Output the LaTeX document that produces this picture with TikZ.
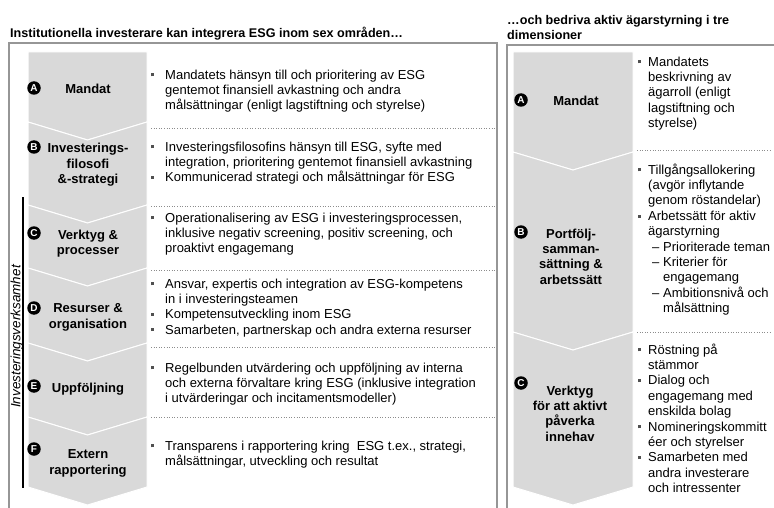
\documentclass[tikz,border=0pt]{standalone}
\usepackage{fontspec}
\setmainfont{Liberation Sans}
\definecolor{chev}{RGB}{217,217,217}
\definecolor{framec}{RGB}{150,150,150}
\definecolor{dotc}{RGB}{140,140,140}
\definecolor{bulc}{RGB}{80,80,80}
\newcommand\bodyf{\fontsize{13}{15.3}\selectfont}
\newcommand\bodyr{\fontsize{13}{15.4}\selectfont}
\newcommand\labf{\fontsize{13}{15.4}\selectfont\bfseries}
\newcommand\sqb{\raisebox{2.8pt}{\textcolor{bulc}{\rule{3pt}{3pt}}}}
\newcommand\lb{\strut\makebox[14pt][l]{\sqb}}
\newcommand\li{\strut\hspace*{14pt}}
\newcommand\rb{\strut\makebox[10pt][l]{\sqb}}
\newcommand\ri{\strut\hspace*{10pt}}
\newcommand\rd{\strut\hspace*{10pt}\makebox[15pt][l]{\hspace{4pt}–}}
\newcommand\rdi{\strut\hspace*{25pt}}
\begin{document}
\begin{tikzpicture}[x=1pt,y=-1pt,
  body/.style={anchor=north west, inner sep=0pt, align=left, font=\bodyf},
  bodyR/.style={anchor=north west, inner sep=0pt, align=left, font=\bodyr},
  lab/.style={inner sep=0pt, align=center, font=\labf},
  circ/.style={circle, fill=black, inner sep=0pt, minimum size=13.5pt, text=white, font=\fontsize{10}{10}\selectfont\bfseries},
  sepline/.style={draw=dotc, dotted, line width=0.6pt},
  chevron/.style={fill=chev, draw=white, line width=1pt, line join=miter},
  framel/.style={draw=framec, line width=1.6pt},
  head/.style={inner sep=0pt, font=\fontsize{12.6}{15}\selectfont\bfseries}]
\useasboundingbox (0,0) rectangle (774,508);
\clip (0,0) rectangle (774,508);
\fill[white] (0,0) rectangle (774,508);

% frames
\draw[framel] (9,520) -- (9,43) -- (497,43) -- (497,520);
\draw[framel] (507,520) -- (507,45) -- (785,45);

% headers
\node[head, anchor=base west] (hl) at (10,38) {Institutionella investerare kan integrera ESG inom sex områden…};
\node[head, anchor=north west, align=left] (hr) at (507,13.5) {\strut…och bedriva aktiv ägarstyrning i tre\\\strut dimensioner};

% left chevrons
\def\xa{28}\def\xb{147}\def\xc{87.5}\def\dp{18}
\filldraw[chevron] (\xa,52) -- (\xb,52) -- (\xb,122) -- (\xc,122+\dp) -- (\xa,122) -- cycle;
\filldraw[chevron] (\xa,122) -- (\xc,122+\dp) -- (\xb,122) -- (\xb,205) -- (\xc,205+\dp) -- (\xa,205) -- cycle;
\filldraw[chevron] (\xa,205) -- (\xc,205+\dp) -- (\xb,205) -- (\xb,268) -- (\xc,268+\dp) -- (\xa,268) -- cycle;
\filldraw[chevron] (\xa,268) -- (\xc,268+\dp) -- (\xb,268) -- (\xb,343) -- (\xc,343+\dp) -- (\xa,343) -- cycle;
\filldraw[chevron] (\xa,343) -- (\xc,343+\dp) -- (\xb,343) -- (\xb,417) -- (\xc,417+\dp) -- (\xa,417) -- cycle;
\filldraw[chevron] (\xa,417) -- (\xc,417+\dp) -- (\xb,417) -- (\xb,487) -- (\xc,487+\dp) -- (\xa,487) -- cycle;

% right chevrons
\def\ya{513}\def\yb{633}\def\yc{573}
\filldraw[chevron] (\ya,52) -- (\yb,52) -- (\yb,152) -- (\yc,152+\dp) -- (\ya,152) -- cycle;
\filldraw[chevron] (\ya,152) -- (\yc,152+\dp) -- (\yb,152) -- (\yb,332) -- (\yc,332+\dp) -- (\ya,332) -- cycle;
\filldraw[chevron] (\ya,332) -- (\yc,332+\dp) -- (\yb,332) -- (\yb,487) -- (\yc,487+\dp) -- (\ya,487) -- cycle;

% vertical bar and label
\draw[line width=1.3pt] (23,197) -- (23,488);
\node[inner sep=0pt, rotate=90, font=\fontsize{13.5}{15}\selectfont\itshape] (inv) at (15.5,336.5) {Investeringsverksamhet};

% left labels
\node[circ] (cA) at (34,88) {A};
\node[lab] (lA) at (88,89) {Mandat};
\node[circ] (cB) at (34,147) {B};
\node[lab] (lB) at (88,163.5) {Investerings-\\filosofi\\\&-strategi};
\node[circ] (cC) at (34,233) {C};
\node[lab] (lC) at (88,242) {Verktyg \&\\processer};
\node[circ] (cD) at (34,308) {D};
\node[lab] (lD) at (88,316) {Resurser \&\\organisation};
\node[circ] (cE) at (34,386) {E};
\node[lab] (lE) at (88,388) {Uppföljning};
\node[circ] (cF) at (34,449) {F};
\node[lab] (lF) at (88,462) {Extern\\rapportering};

% right labels
\node[circ] (rcA) at (521,100) {A};
\node[lab] (rlA) at (576,101) {Mandat};
\node[circ] (rcB) at (521,232) {B};
\node[lab] (rlB) at (571,256.5) {Portfölj-\\samman-\\sättning \&\\arbetssätt};
\node[circ] (rcC) at (521,383) {C};
\node[lab] (rlC) at (570,413.5) {Verktyg\\för att aktivt\\påverka\\innehav};

% separators
\foreach \yy in {128,206,270,347,417} \draw[sepline] (151,\yy) -- (495,\yy);
\foreach \yy in {150,332} \draw[sepline] (637,\yy) -- (770,\yy);

% left texts
\node[body] (tA) at (151,68.2) {\lb Mandatets hänsyn till och prioritering av ESG\\
\li gentemot finansiell avkastning och andra\\
\li målsättningar (enligt lagstiftning och styrelse)};
\node[body] (tB) at (151,140.2) {\lb Investeringsfilosofins hänsyn till ESG, syfte med\\
\li integration, prioritering gentemot finansiell avkastning\\
\lb Kommunicerad strategi och målsättningar för ESG};
\node[body] (tC) at (151,211.2) {\lb Operationalisering av ESG i investeringsprocessen,\\
\li inklusive negativ screening, positiv screening, och\\
\li proaktivt engagemang};
\node[body] (tD) at (151,277.2) {\lb Ansvar, expertis och integration av ESG-kompetens\\
\li in i investeringsteamen\\
\lb Kompetensutveckling inom ESG\\
\lb Samarbeten, partnerskap och andra externa resurser};
\node[body] (tE) at (151,361.2) {\lb Regelbunden utvärdering och uppföljning av interna\\
\li och externa förvaltare kring ESG (inklusive integration\\
\li i utvärderingar och incitamentsmodeller)};
\node[body] (tF) at (151,439.2) {\lb Transparens i rapportering kring\ \ ESG t.ex., strategi,\\
\li målsättningar, utveckling och resultat};

% right texts
\node[bodyR] (rtA) at (638,55.2) {\rb Mandatets\\\ri beskrivning av\\\ri ägarroll (enligt\\\ri lagstiftning och\\\ri styrelse)};
\node[bodyR] (rtB) at (638,163.2) {\rb Tillgångsallokering\\\ri (avgör inflytande\\\ri genom röstandelar)\\\rb Arbetssätt för aktiv\\\ri ägarstyrning\\\rd Prioriterade teman\\\rd Kriterier för\\\rdi engagemang\\\rd Ambitionsnivå och\\\rdi målsättning};
\node[bodyR] (rtC) at (638,343.2) {\rb Röstning på\\\ri stämmor\\\rb Dialog och\\\ri engagemang med\\\ri enskilda bolag\\\rb Nomineringskommitt\\\ri éer och styrelser\\\rb Samarbeten med\\\ri andra investerare\\\ri och intressenter};
\end{tikzpicture}
\end{document}
